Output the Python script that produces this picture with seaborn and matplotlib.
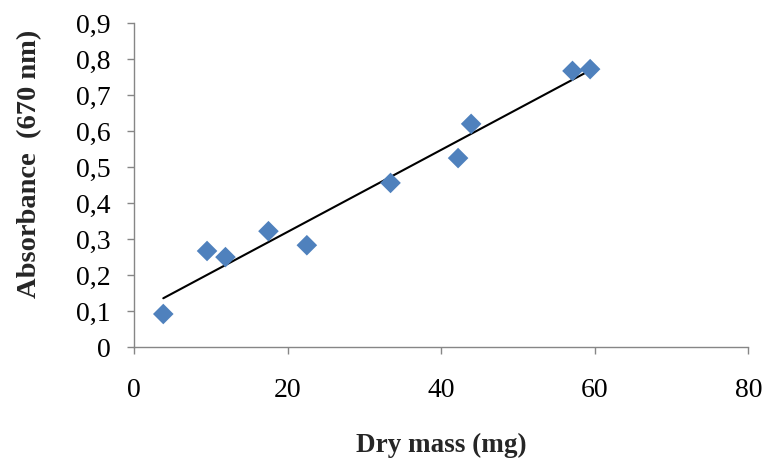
import matplotlib
matplotlib.use("Agg")
import matplotlib.pyplot as plt
import seaborn as sns
import pandas as pd
from matplotlib.ticker import FuncFormatter, MultipleLocator

dry_mass = [3.8, 9.5, 11.9, 17.5, 22.5, 33.4, 42.2, 43.9, 57.1, 59.4]
absorbance = [0.092, 0.267, 0.250, 0.322, 0.283, 0.456, 0.525, 0.620, 0.767, 0.772]

df = pd.DataFrame({"Dry mass (mg)": dry_mass, "Absorbance": absorbance})

sns.set_style("white")
plt.rcParams['font.family'] = ['Liberation Serif', 'DejaVu Serif']

fig = plt.figure(figsize=(7.62, 4.61), dpi=100)
ax = fig.add_axes([0.176, 0.247, 0.806, 0.703])

sns.regplot(data=df, x="Dry mass (mg)", y="Absorbance", ax=ax, ci=None, truncate=True,
            marker="D",
            scatter_kws=dict(s=110, color="#4F81BD", edgecolor="none", alpha=1, zorder=3),
            line_kws=dict(color="black", linewidth=1.5, zorder=2))

ax.set_xlim(0, 80)
ax.set_ylim(0, 0.9)
ax.xaxis.set_major_locator(MultipleLocator(20))
ax.yaxis.set_major_locator(MultipleLocator(0.1))
ax.yaxis.set_major_formatter(FuncFormatter(lambda v, p: "0" if abs(v) < 1e-9 else f"{v:.1f}".replace(".", ",")))

gray = "#868686"
for s in ["top", "right"]:
    ax.spines[s].set_visible(False)
for s in ["left", "bottom"]:
    ax.spines[s].set_color(gray)
    ax.spines[s].set_linewidth(1.0)
ax.tick_params(axis="both", direction="out", length=5, width=1, color=gray,
               labelsize=20, labelcolor="black", left=True, bottom=True)
ax.tick_params(axis="x", pad=17)
ax.tick_params(axis="y", pad=12)

ax.set_xlabel("Dry mass (mg)", fontsize=19.5, fontweight="bold", labelpad=22)
ax.set_ylabel("Absorbance  (670 nm)", fontsize=20.5, fontweight="bold", labelpad=24)
ax.yaxis.label.set_y(0.565)

fig.savefig("out.png", dpi=100)
